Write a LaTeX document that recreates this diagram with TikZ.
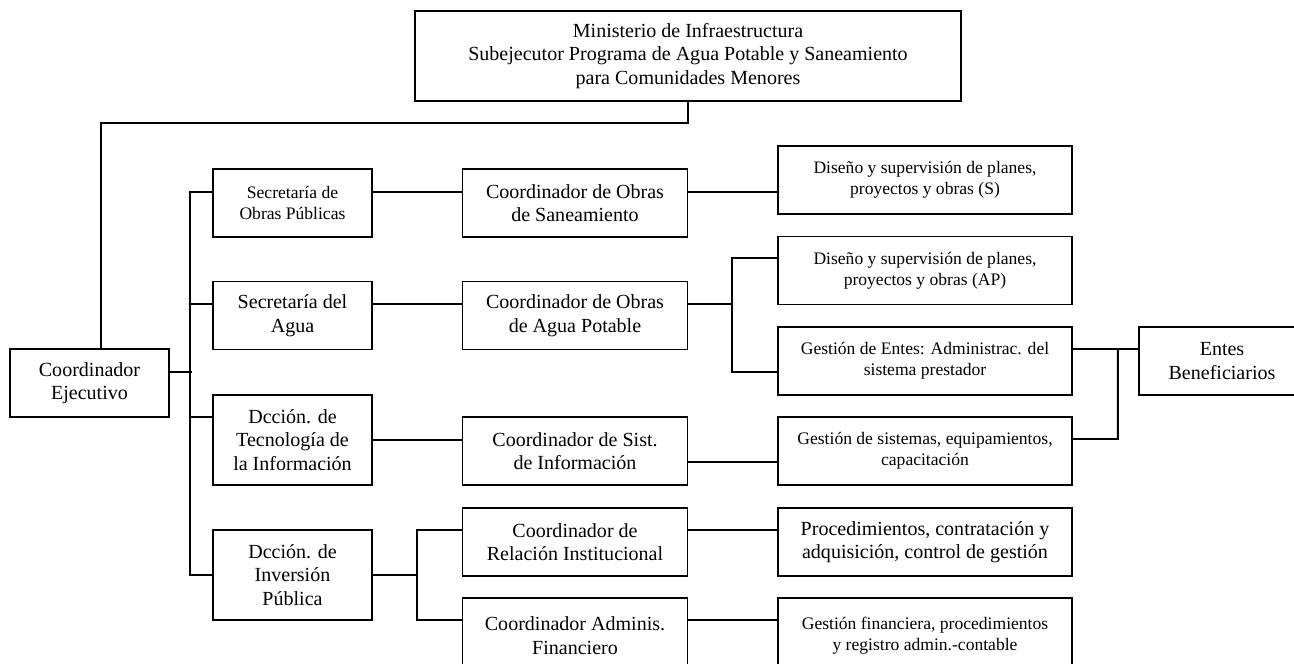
\documentclass[tikz,border=0pt]{standalone}
\usepackage{fontspec}
\setmainfont{Liberation Serif}
\usetikzlibrary{positioning}
\newcommand{\bigtxt}{\fontsize{11.4}{13.4}\selectfont}
\newcommand{\smalltxt}{\fontsize{10}{12}\selectfont}
\tikzset{
x=0.02cm, y=-0.02cm, % one unit is one pixel of the chart, y grows downwards
box/.style={draw, line width=1.1pt, align=center, inner sep=0pt, font=\bigtxt}, % every box of the chart
small/.style={font=\smalltxt}, % boxes with the smaller text
narrow/.style={minimum width=3.18cm, minimum height=1.36cm}, % first two columns
mid/.style={minimum width=4.5cm, minimum height=1.36cm}, % coordinators
wide/.style={minimum width=5.88cm, minimum height=1.36cm}, % tasks
cut/.style={minimum height=1.5cm}, % bottom row, runs past the page
}

\begin{document}
\begin{tikzpicture}[line width=1.1pt]
    \useasboundingbox (0,0) rectangle (1294,663);
    \node[box, minimum width=10.92cm, minimum height=1.8cm] (top) at (688,56) {Ministerio de Infraestructura\\Subejecutor Programa de Agua Potable y Saneamiento\\para Comunidades Menores};
    \node[box, narrow] (ejec) at (89.5,383) {Coordinador\\Ejecutivo};

    \node[box, small, narrow] (secop) at (292.5,203) {Secretaría de\\Obras Públicas};
    \node[box, narrow] (secag) at (292.5,315.5) {Secretaría del\\Agua};
    \node[box, narrow, minimum height=1.8cm] (dtic) at (292.5,440) {Dcción. de\\Tecnología de\\la Información};
    \node[box, narrow, minimum height=1.8cm] (dinv) at (292.5,575) {Dcción. de\\Inversión\\Pública};

    \node[box, mid] (cos) at (575,203) {Coordinador de Obras\\de Saneamiento};
    \node[box, mid] (cap) at (575,315.5) {Coordinador de Obras\\de Agua Potable};
    \node[box, mid] (csi) at (575,451) {Coordinador de Sist.\\de Información};
    \node[box, mid] (cri) at (575,542) {Coordinador de\\Relación Institucional};
    \node[box, mid, cut] (caf) at (575,635.5) {Coordinador Adminis.\\Financiero};

    \node[box, small, wide] (dss) at (925,180) {Diseño y supervisión de planes,\\proyectos y obras (S)};
    \node[box, small, wide] (dsap) at (925,270.5) {Diseño y supervisión de planes,\\proyectos y obras (AP)};
    \node[box, small, wide] (ge) at (925,361) {Gestión de Entes: Administrac. del\\sistema prestador};
    \node[box, small, wide] (gs) at (925,451) {Gestión de sistemas, equipamientos,\\capacitación};
    \node[box, wide] (proc) at (925,542) {Procedimientos, contratación y\\adquisición, control de gestión};
    \node[box, small, wide, cut] (gf) at (925,635.5) {Gestión financiera, procedimientos\\y registro admin.-contable};

    \node[box, minimum width=3.32cm, minimum height=1.36cm] (entes) at (1222,361) {Entes\\Beneficiarios};

    % ministerio down to the executive
    \coordinate (jt) at (101,123);
    \draw (top.south) |- (jt) -- (jt |- ejec.north);

    % executive to the four areas
    \draw ([yshift=.22cm]ejec.east) -- ++(22,0);
    \draw ([yshift=.22cm]secop.west) -- ++(-22,0) |- (dinv.west);
    \draw ([yshift=.23cm]secag.west) -- ++(-22,0);
    \draw ([yshift=.46cm]dtic.west) -- ++(-22,0);

    % areas to coordinators
    \draw ([yshift=.22cm]secop.east) -- ([yshift=.22cm]cos.west);
    \draw ([yshift=.23cm]secag.east) -- ([yshift=.23cm]cap.west);
    \draw (dtic.east) -- (dtic.east -| csi.west);
    \draw (dinv.east) -- ++(45,0);
    \draw ([yshift=.24cm]cri.west) -- ++(-45,0) |- ([yshift=.31cm]caf.west);

    % coordinators to tasks
    \draw ([yshift=.22cm]cos.east) -- ([yshift=.22cm]cos.east -| dss.west);
    \draw ([yshift=.23cm]cap.east) -- ++(45,0);
    \draw ([yshift=.25cm]dsap.west) -- ++(-45,0) |- ([yshift=-.22cm]ge.west);
    \draw ([yshift=-.22cm]csi.east) -- ([yshift=-.22cm]gs.west);
    \draw ([yshift=.24cm]cri.east) -- ([yshift=.24cm]proc.west);
    \draw ([yshift=.31cm]caf.east) -- ([yshift=.31cm]gf.west);

    % tasks to the beneficiaries
    \draw ([yshift=.24cm]ge.east) -- ([yshift=.24cm]entes.west);
    \draw ([yshift=.24cm]gs.east) -- ++(45,0) -- ([xshift=.9cm,yshift=.24cm]ge.east);
\end{tikzpicture}
\end{document}
